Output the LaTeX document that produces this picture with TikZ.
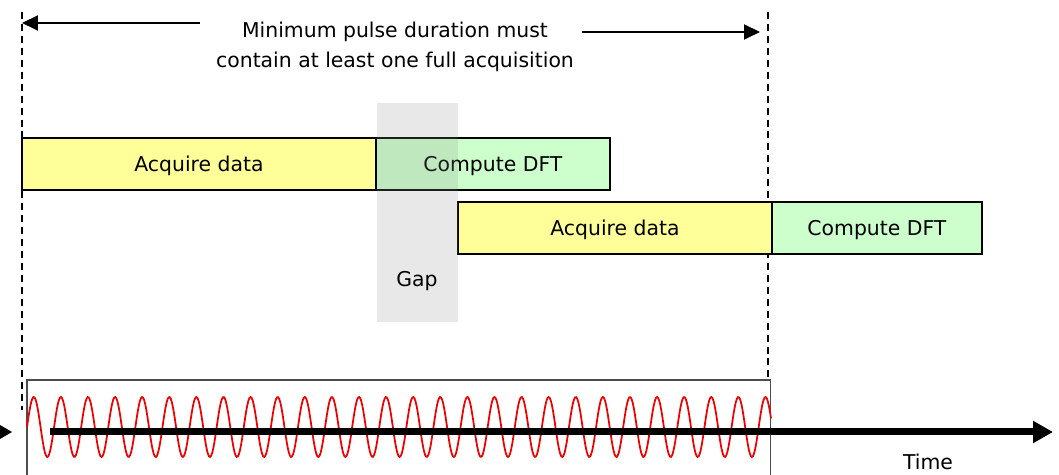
\documentclass[tikz,border=0pt]{standalone}
\usepackage{fontspec}
\setmainfont{DejaVu Sans}
\usetikzlibrary{arrows.meta}
\usetikzlibrary{positioning}
\definecolor{PaleYellow}{HTML}{FFFF99}
\definecolor{PaleGreen}{HTML}{CCFFCC}
\definecolor{WaveRed}{HTML}{EE0000}
\tikzset{
  taskbox/.style={draw, line width=1pt, minimum height=1.04cm, inner sep=0pt, outer sep=0pt, text depth=0pt},
  acqbox/.style={taskbox, fill=PaleYellow},
  dftbox/.style={taskbox, fill=PaleGreen},
  gapbox/.style={fill=black!45, fill opacity=0.2, inner sep=0pt, outer sep=0pt},
  wavebox/.style={draw=black!70, line width=0.6pt, inner sep=0pt, outer sep=0pt},
  marker/.style={dashed, line width=1.1pt, dash pattern=on 4pt off 2.8pt},
  spanarrow/.style={line width=1.1pt, -{Triangle[length=0.32cm, width=0.3cm]}}
}

\begin{document}
\begin{tikzpicture}[x=0.02cm, y=-0.02cm, every node/.style={font=\fontsize{11.6}{16.8}\selectfont}]
  \useasboundingbox (0,0) rectangle (1059,475);
  \clip (0,0) rectangle (1059,475);

  % pulse span
  \coordinate (spanL)     at (22,23);
  \coordinate (spanLtail) at (200,23);
  \coordinate (spanR)     at (760,32);
  \coordinate (spanRtail) at (582,32);
  \draw[marker] (22,12) -- (22,410);
  \draw[marker] (768,12) -- (768,380);
  \draw[spanarrow] (spanLtail) -- (spanL);
  \draw[spanarrow] (spanRtail) -- (spanR);
  \node[align=center] (note) at (395,47)
    {Minimum pulse duration must\\contain at least one full acquisition};

  % acquisitions
  \node[acqbox, minimum width=7.08cm, anchor=north west] (acqA) at (22,138) {Acquire data};
  \node[dftbox, minimum width=4.68cm, right=0cm of acqA] (dftA) {Compute DFT};
  \node[acqbox, minimum width=6.28cm, anchor=north west] (acqB) at (458,202) {Acquire data};
  \node[dftbox, minimum width=4.2cm, right=0cm of acqB] (dftB) {Compute DFT};

  \node[gapbox, minimum width=1.62cm, minimum height=4.38cm, anchor=north west] (gap) at (377,103) {};
  \node (gaplabel) at (417,281) {Gap};

  % signal
  \node[wavebox, minimum width=14.88cm, minimum height=2.2cm, anchor=north west] (window) at (27,380) {};
  \draw[WaveRed, line width=1pt] plot[domain=27:771, samples=700]
    (\x, {427 - 30*sin(13.284*(\x-27))});

  \coordinate (axisStart) at (50,432);
  \coordinate (axisEnd)   at (1053,432);
  \draw[line width=0.14cm, -{Triangle[length=0.4cm, width=0.42cm]}] (axisStart) -- (axisEnd);
  \fill (0,425) -- (12,432) -- (0,439) -- cycle;
  \node (timelabel) at (928,462) {Time};
\end{tikzpicture}
\end{document}
